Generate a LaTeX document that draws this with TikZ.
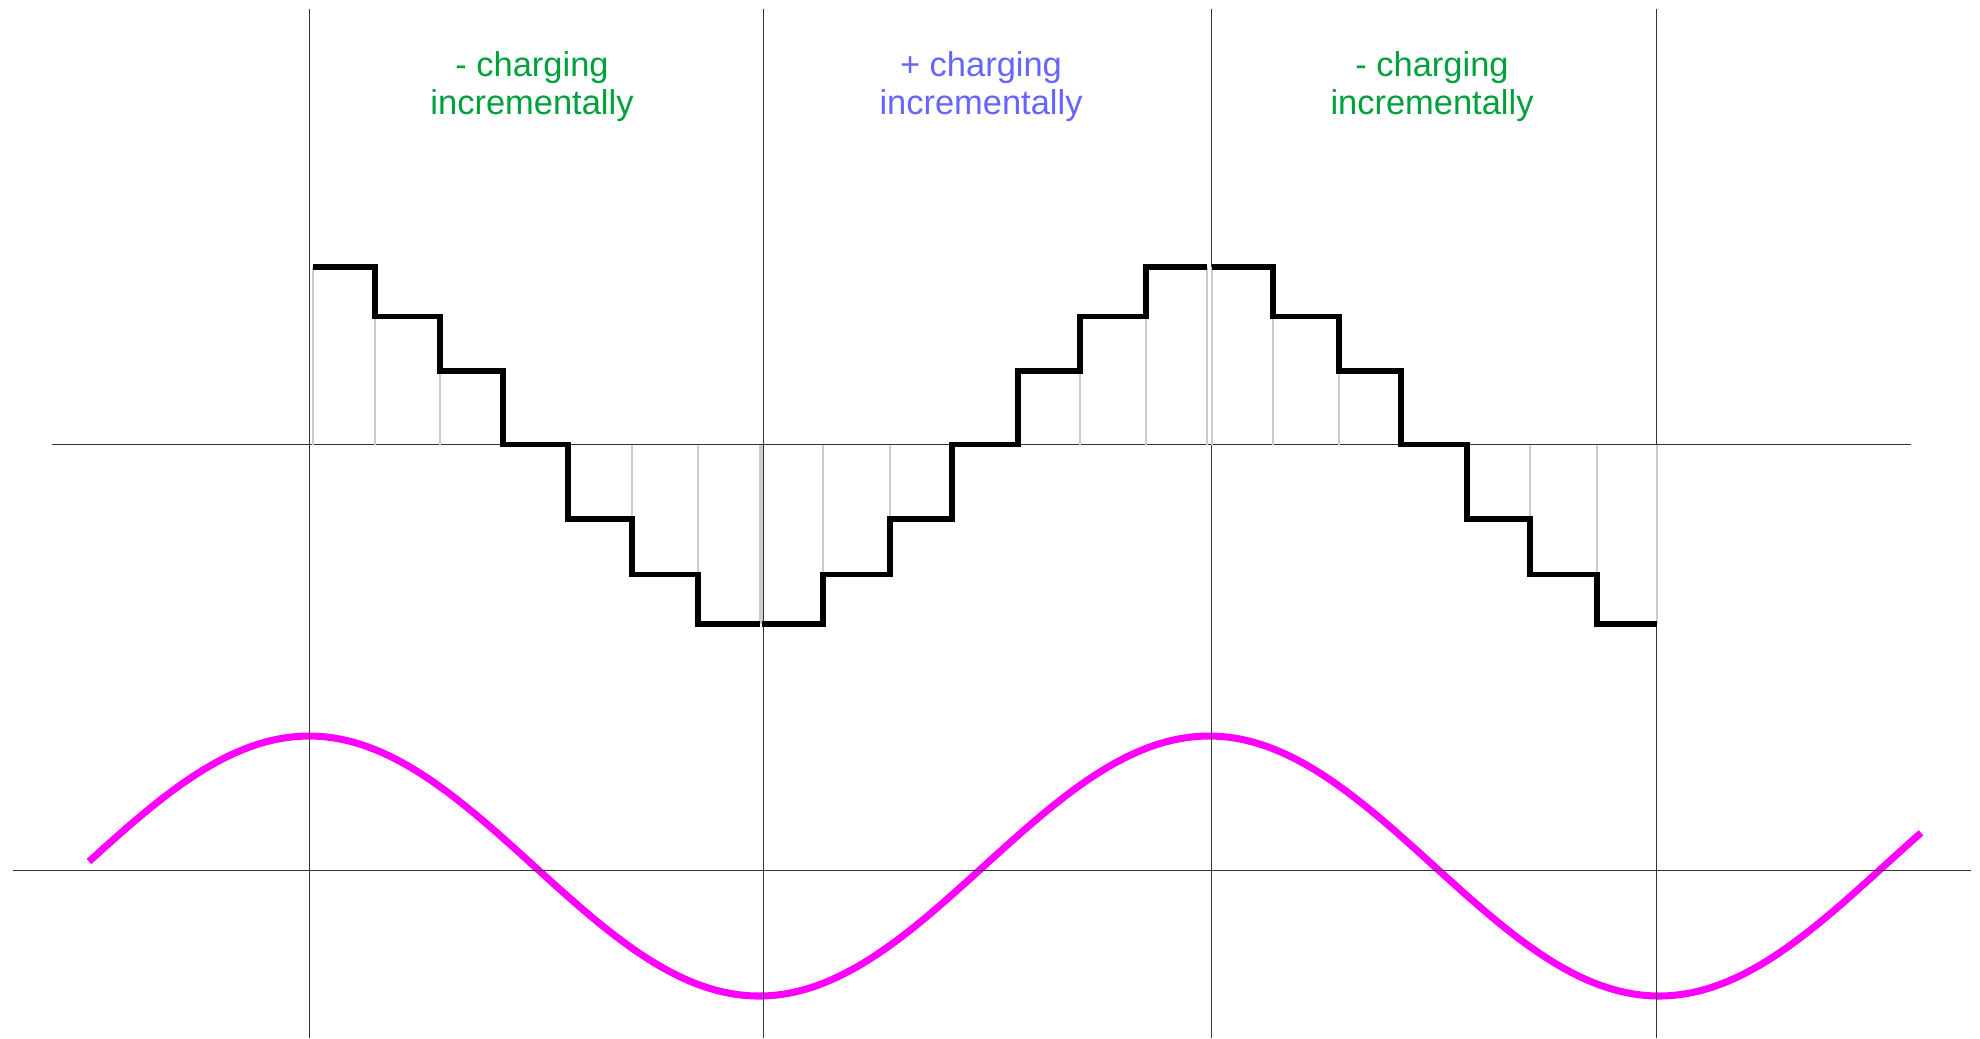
\documentclass[tikz,border=0pt]{standalone}
\usepackage{fontspec}
\setmainfont{Liberation Sans}
\usepackage{tikz}
\definecolor{cMinus}{RGB}{0,160,60}
\definecolor{cPlus}{RGB}{102,102,255}
\definecolor{cWave}{RGB}{255,0,255}
\tikzset{
	refline/.style   ={draw=black!80, line width=0.35pt},
	sampleline/.style={draw=black!20, line width=0.35pt},
	stair/.style     ={draw=black, line width=1.6pt},
	sinewave/.style  ={draw=cWave, line width=2pt},
	chglabel/.style  ={align=center, inner sep=0pt, font=\fontsize{9.8}{10.9}\selectfont},
}

\begin{document}
\begin{tikzpicture}[x=0.01cm, y=-0.01cm]
	\fill[white] (0,0) rectangle (1980,1038);
	\useasboundingbox (0,0) rectangle (1980,1038);
	% reference sine
	\draw[sinewave] plot[domain=89:1921, samples=240, smooth] (\x,{866-130*cos((\x-309)*0.4)});
	% axes and half-period markers
	\draw[refline] (52,444.5) -- (1911,444.5);
	\draw[refline] (13,870.5) -- (1971,870.5);
	\foreach \x in {309.3,763.3,1211.7,1656.7}
		\draw[refline] (\x,9) -- (\x,1038);
	% sample bars
	\foreach \a/\b/\y in {313/375/266.7, 375/440/316.3, 440/503/371, 568/632/518.7, 632/698/574.3, 698/760/624,
		762/823/624, 823/890/574.3, 890/952/518.7, 1018/1080/371, 1080/1146/316.3, 1146/1207/266.7,
		1212/1273/266.7, 1273/1339/316.3, 1339/1401/371, 1467/1530/518.7, 1530/1597/574.3, 1597/1657/624}
		\draw[sampleline] (\a,444.5) -- (\a,\y) (\b,\y) -- (\b,444.5);
	% staircases
	\draw[stair] (313,266.7) \foreach \x/\y in {375/316.3,440/371,503/444.5,568/518.7,632/574.3,698/624} {-| (\x,\y)} -- (760,624);
	\draw[stair] (762,624) \foreach \x/\y in {823/574.3,890/518.7,952/444.5,1018/371,1080/316.3,1146/266.7} {-| (\x,\y)} -- (1207,266.7);
	\draw[stair] (1212,266.7) \foreach \x/\y in {1273/316.3,1339/371,1401/444.5,1467/518.7,1530/574.3,1597/624} {-| (\x,\y)} -- (1657,624);
	% labels
	\node[chglabel, text=cMinus] (chgA) at (532,86.5) {- charging\\incrementally};
	\node[chglabel, text=cPlus] (chgB) at (981,86.5) {+ charging\\incrementally};
	\node[chglabel, text=cMinus] (chgC) at (1432,86.5) {- charging\\incrementally};
\end{tikzpicture}
\end{document}
